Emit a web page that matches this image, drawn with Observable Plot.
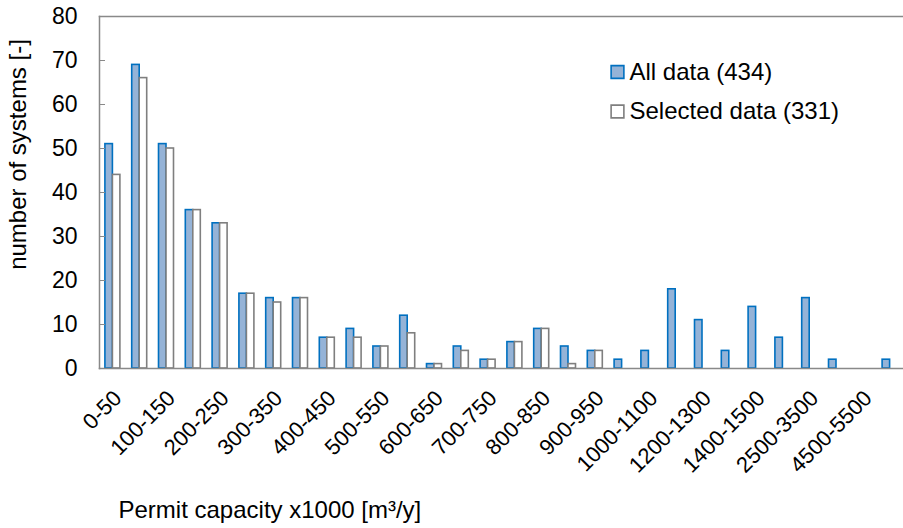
<!DOCTYPE html>
<html>
<head>
<meta charset="utf-8">
<script src="https://cdn.jsdelivr.net/npm/d3@7"></script>
<script src="https://cdn.jsdelivr.net/npm/@observablehq/plot@0.6"></script>
<style>
  html, body { margin: 0; padding: 0; background: #fff; }
  #chart svg { display: block; }
</style>
</head>
<body>
<div id="chart"></div>
<script>
const categories = ["0-50","50-100","100-150","150-200","200-250","250-300","300-350","350-400",
  "400-450","450-500","500-550","550-600","600-650","650-700","700-750","750-800","800-850",
  "850-900","900-950","950-1000","1000-1100","1100-1200","1200-1300","1300-1400","1400-1500",
  "1500-2500","2500-3500","3500-4500","4500-5500","5500-6500"];
const allData = [51,69,51,36,33,17,16,16,7,9,5,12,1,5,2,6,9,5,4,2,4,18,11,4,14,7,16,2,0,2];
const selectedData = [44,66,50,36,33,17,15,16,7,7,5,8,1,4,2,6,9,1,4,0,0,0,0,0,0,0,0,0,0,0];
const yTicks = [0,10,20,30,40,50,60,70,80];
const xTickLabels = categories.filter((d, i) => i % 2 === 0);
const seriesNames = ["All data (434)", "Selected data (331)"];
const xTitle = "Permit capacity x1000 [m\u00B3/y]";
const yTitle = "number of systems [-]";

const W = 903, H = 528, mL = 99, mR = 0, mT = 16, mB = 160;
const bw = (W - mL - mR) / categories.length;
const half = bw / 2;
const barW = 7.5;

const rowsAll = categories.map((c, i) => ({category: c, value: allData[i]})).filter(d => d.value > 0);
const rowsSel = categories.map((c, i) => ({category: c, value: selectedData[i]})).filter(d => d.value > 0);

const axisGray = "#898989";
const blueFill = "#95B3D7", blueStroke = "#0070C0";
const whiteStroke = "#7F7F7F";
const font = "'Liberation Sans', Arial, sans-serif";

const chart = Plot.plot({
  width: W, height: H,
  marginLeft: mL, marginRight: mR, marginTop: mT, marginBottom: mB,
  style: {fontFamily: font, fontSize: "23px", color: "#000", background: "#fff"},
  x: {type: "band", domain: categories, padding: 0, align: 0.5, round: false},
  y: {domain: [0, 80]},
  marks: [
    Plot.barY(rowsAll, {x: "category", y: "value", fill: blueFill, stroke: blueStroke, strokeWidth: 1.6,
      insetLeft: half - barW, insetRight: half}),
    Plot.barY(rowsSel, {x: "category", y: "value", fill: "#fff", stroke: whiteStroke, strokeWidth: 1.6,
      insetLeft: half, insetRight: half - barW}),
    Plot.frame({anchor: "top", stroke: axisGray, strokeWidth: 1.5}),
    Plot.frame({anchor: "bottom", stroke: axisGray, strokeWidth: 1.5}),
    Plot.frame({anchor: "left", stroke: axisGray, strokeWidth: 1.5}),
    Plot.axisY({ticks: yTicks, tickSize: -6, tickPadding: 28, stroke: axisGray, fontSize: 23, label: null}),
    Plot.axisX({ticks: xTickLabels, tickSize: 0, tickPadding: 26, dx: 5, tickRotate: -45, fontSize: 22, label: null}),
    Plot.text([yTitle], {text: d => d, frameAnchor: "top-left", dx: 18 - mL, dy: 154 - mT, rotate: -90,
      textAnchor: "middle", lineAnchor: "middle", fontSize: 24, fill: "#000"}),
    Plot.text([xTitle], {text: d => d, frameAnchor: "bottom-left", dx: 118 - mL, dy: 510 - (H - mB),
      textAnchor: "start", lineAnchor: "middle", fontSize: 24, fill: "#000"}),
    Plot.dot([seriesNames[0]], {frameAnchor: "top-left", dx: 617 - mL, dy: 71.5 - mT, symbol: "square",
      r: 7.2, fill: blueFill, stroke: blueStroke, strokeWidth: 1.6}),
    Plot.dot([seriesNames[1]], {frameAnchor: "top-left", dx: 617 - mL, dy: 111 - mT, symbol: "square",
      r: 7.2, fill: "#fff", stroke: whiteStroke, strokeWidth: 1.6}),
    Plot.text([seriesNames[0]], {text: d => d, frameAnchor: "top-left", dx: 629 - mL, dy: 72 - mT,
      textAnchor: "start", lineAnchor: "middle", fontSize: 24, fill: "#000"}),
    Plot.text([seriesNames[1]], {text: d => d, frameAnchor: "top-left", dx: 629 - mL, dy: 111 - mT,
      textAnchor: "start", lineAnchor: "middle", fontSize: 24, fill: "#000"})
  ]
});
document.getElementById("chart").appendChild(chart);
</script>
</body>
</html>
